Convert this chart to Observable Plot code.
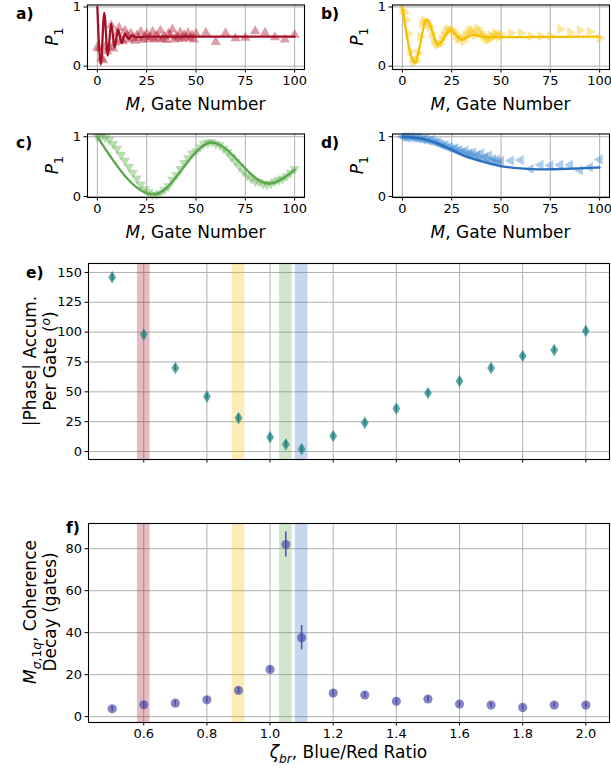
<!DOCTYPE html>
<html><head><meta charset="utf-8">
<script src="https://cdn.jsdelivr.net/npm/d3@7"></script>
<script src="https://cdn.jsdelivr.net/npm/@observablehq/plot@0.6"></script>
<style>
body{margin:0;background:#fff;}
#fig{position:relative;width:611px;height:770px;overflow:hidden;background:#fff;}
#fig svg{position:absolute;}
</style></head><body><div id="fig"></div>
<script>
// ---------------- DATA ----------------
const gateTicks = [0, 25, 50, 75, 100];
const p1Ticks = [0, 1];

const gateA = [0,1,2,3,4,5,6,7,8,9,10,11,12,13,14,15,16,17,18,19,20,21,22,23,24,25,26,27,28,29,30,31,32,33,34,35,36,37,38,39,40,41,42,43,44,45,46,47,48,49,50,55,60,65,70,75,80,85,90,95,100];
const p1A = [0.32,0.30,0.13,0.10,0.33,0.25,0.32,0.69,0.30,0.40,0.55,0.65,0.45,0.42,0.60,0.52,0.45,0.55,0.48,0.43,0.52,0.47,0.58,0.44,0.50,0.55,0.46,0.49,0.58,0.45,0.52,0.47,0.60,0.46,0.50,0.44,0.55,0.52,0.62,0.45,0.50,0.48,0.57,0.46,0.53,0.49,0.56,0.47,0.52,0.45,0.55,0.565,0.41,0.56,0.47,0.48,0.59,0.565,0.49,0.45,0.53];
const fitGateA = [0,1.75,3.5,5.25,7.0,8.75,10.5,12.25,14.0,15.75,17.5,19.5,25,100];
const fitP1A = [1.0,0.03,0.90,0.18,0.72,0.31,0.62,0.39,0.55,0.46,0.52,0.49,0.5,0.5];

const gateB = [0,1,2,3,4,5,6,7,8,9,10,11,12,13,14,15,16,17,18,19,20,21,22,23,24,25,26,27,28,29,30,31,32,33,34,35,36,37,38,39,40,41,42,43,44,45,46,47,48,49,50,55,60,65,70,75,80,85,90,95,100];
const p1B = [0.95,0.90,0.78,0.55,0.25,0.12,0.07,0.10,0.22,0.50,0.72,0.77,0.74,0.70,0.66,0.55,0.42,0.38,0.36,0.38,0.45,0.52,0.60,0.63,0.60,0.62,0.58,0.52,0.47,0.45,0.49,0.42,0.52,0.55,0.60,0.62,0.56,0.52,0.64,0.58,0.55,0.50,0.48,0.44,0.46,0.52,0.50,0.56,0.53,0.49,0.54,0.56,0.56,0.51,0.51,0.51,0.63,0.57,0.60,0.58,0.47];
const fitGateB = [0,6.3,12.4,18.2,24.2,30.2,36,42,100];
const fitP1B = [1.0,0.06,0.79,0.36,0.61,0.45,0.53,0.49,0.5];

const gateC = [0,2,4,6,8,10,12,14,16,18,20,22,24,26,28,30,32,34,36,38,40,42,44,46,48,50,52,54,56,58,60,62,64,66,68,70,72,74,76,78,80,82,84,86,88,90,92,94,96,98,100];
const p1C = [1.0,1.0,0.99,0.95,0.88,0.80,0.70,0.60,0.50,0.40,0.30,0.20,0.12,0.07,0.03,0.03,0.06,0.11,0.17,0.28,0.36,0.46,0.56,0.64,0.72,0.76,0.82,0.88,0.90,0.91,0.88,0.86,0.80,0.74,0.66,0.58,0.50,0.42,0.35,0.30,0.25,0.24,0.21,0.20,0.22,0.25,0.28,0.30,0.34,0.40,0.46];
const fitGateC = [0,28.5,58,87,100];
const fitP1C = [1.0,0.035,0.90,0.215,0.45];

const gateD = [0,1,2,3,4,5,6,7,8,9,10,11,12,13,14,15,16,17,18,19,20,21,22,23,24,25,26,27,28,29,30,31,32,33,34,35,36,37,38,39,40,41,42,43,44,45,46,47,48,49,50,55,60,65,70,75,80,85,90,95,100];
const p1D = [1.0,0.99,1.0,0.98,1.0,0.99,0.98,0.99,0.97,0.98,0.96,0.95,0.97,0.94,0.93,0.95,0.92,0.90,0.91,0.88,0.87,0.85,0.86,0.82,0.83,0.80,0.79,0.81,0.76,0.78,0.74,0.72,0.77,0.70,0.73,0.68,0.74,0.66,0.70,0.64,0.72,0.62,0.66,0.60,0.69,0.58,0.63,0.57,0.62,0.55,0.60,0.60,0.61,0.46,0.53,0.52,0.53,0.53,0.44,0.49,0.62];
const fitGateD = [0,10,20,25,30,40,50,60,70,80,90,100];
const fitP1D = [1.0,0.97,0.86,0.78,0.70,0.59,0.51,0.47,0.455,0.46,0.47,0.485];

const ratio = [0.5,0.6,0.7,0.8,0.9,1.0,1.05,1.1,1.2,1.3,1.4,1.5,1.6,1.7,1.8,1.9,2.0];
const phase = [146,98,70,46,28,12,6,2,13,24,36,49,59,70,80,85,101];
const phaseErr = [3,3,2.5,2.5,3,2.5,3,3,2.5,2.5,2.5,2.5,2.5,2.5,2.5,2.5,2.5];
const decay = [3.7,5.6,6.4,8.0,12.5,22.5,82,37.6,11.2,10.3,7.3,8.4,6.0,5.5,4.4,5.5,5.5];
const decayErr = [1.2,1.5,1.3,1.3,1.5,1.5,5.9,5.8,1.3,1.3,1.2,1.3,1.2,1.2,1.2,1.2,1.2];
const ratioTicks = [0.6,0.8,1.0,1.2,1.4,1.6,1.8,2.0];
const phaseTicks = [0,25,50,75,100,125,150];
const decayTicks = [0,20,40,60,80];
const bandLo = [0.58,0.88,1.03,1.08];
const bandHi = [0.62,0.92,1.07,1.12];

// ---------------- STYLE ----------------
const FONT = "DejaVu Sans";
const GRID = "#b0b0b0";
const COL = {
  a: {fit: "#a50f26", pt: "#b0182e"},
  b: {fit: "#f5c000", pt: "#f5c518"},
  c: {fit: "#5aa64a", pt: "#5aae4a"},
  d: {fit: "#2a6fbd", pt: "#3a86d0"}
};
const bandColors = [COL.a.fit, COL.b.fit, COL.c.fit, COL.d.fit];
const TICK_FS = 13, LABEL_FS = 17;
const fig = document.getElementById("fig");

const thinDiamond = {
  draw(ctx, size) {
    const r = Math.sqrt(size / Math.PI);
    ctx.moveTo(0, -r * 1.55);
    ctx.lineTo(r * 0.95, 0);
    ctx.lineTo(0, r * 1.55);
    ctx.lineTo(-r * 0.95, 0);
    ctx.closePath();
  }
};

function richText(sel, parts, size) {
  let shift = 0;
  for (const p of parts) {
    const target = p.sub ? size * 0.3 : p.sup ? -size * 0.38 : 0;
    const ts = sel.append("tspan").text(p.t);
    if (target !== shift) { ts.attr("dy", target - shift); shift = target; }
    if (p.sub || p.sup) ts.attr("font-size", size * 0.72);
    if (p.i) ts.attr("font-style", "italic");
  }
}
function addText(svg, {x, y, rot, anchor = "middle", size = LABEL_FS, weight = "normal", parts}) {
  const t = svg.append("text")
    .attr("text-anchor", anchor)
    .attr("font-family", FONT)
    .attr("font-size", size)
    .attr("font-weight", weight)
    .attr("fill", "#000")
    .attr("transform", `translate(${x},${y})` + (rot ? ` rotate(${rot})` : ""));
  richText(t, parts, size);
  return t;
}

function makePanel(o) {
  const svg = Plot.plot({
    width: o.w, height: o.h,
    marginLeft: o.ml, marginRight: o.mr, marginTop: o.mt, marginBottom: o.mb,
    style: {fontFamily: FONT, fontSize: TICK_FS + "px", color: "#000", background: "none", overflow: "visible"},
    x: {domain: o.xd, label: null},
    y: {domain: o.yd, label: null},
    marks: [
      Plot.gridX(o.xt, {stroke: GRID, strokeOpacity: 1, strokeWidth: 1}),
      Plot.gridY(o.yt, {stroke: GRID, strokeOpacity: 1, strokeWidth: 1}),
      ...o.marks,
      Plot.frame({stroke: "#000", strokeWidth: 1.1}),
      Plot.axisX(o.xt, {tickSize: 3.5, tickPadding: 3, tickFormat: o.xf, label: null}),
      Plot.axisY(o.yt, {tickSize: 3.5, tickPadding: 3, tickFormat: o.yf, label: null})
    ]
  });
  svg.style.left = o.left + "px";
  svg.style.top = o.top + "px";
  fig.appendChild(svg);
  return d3.select(svg);
}

function gatePanel(id, left, top, gates, p1, fitG, fitP, col, rot, yd, mt, mb, h) {
  const pts = gates.map((m, i) => ({m, p: p1[i]}));
  const fit = fitG.map((m, i) => ({m, p: fitP[i]}));
  const svg = makePanel({
    left, top, w: left === 0 ? 305 : 306, h,
    ml: 87, mr: left === 0 ? 1 : 2, mt, mb,
    xd: [-5, 105], yd, xt: gateTicks, yt: p1Ticks,
    xf: d3.format("d"), yf: d3.format("d"),
    marks: [
      Plot.dot(pts, {x: "m", y: "p", symbol: "triangle", r: 3.8, rotate: rot, fill: col.pt, fillOpacity: 0.42, stroke: "none"}),
      Plot.line(fit, {x: "m", y: "p", stroke: col.fit, strokeWidth: 2.3, curve: "monotone-x"})
    ]
  });
  const plotTop = mt, plotBot = h - mb;
  addText(svg, {x: 87 + 217 / 2, y: plotBot + 41, parts: [{t: "M", i: true}, {t: ", Gate Number"}]});
  addText(svg, {x: 58, y: (plotTop + plotBot) / 2, rot: -90, parts: [{t: "P", i: true}, {t: "1", sub: true}]});
  addText(svg, {x: 16, y: 19, anchor: "start", size: 15.5, weight: "bold", parts: [{t: id + ")"}]});
  return svg;
}

gatePanel("a", 0, 0, gateA, p1A, fitGateA, fitP1A, COL.a, 0, [-0.056, 1.034], 4.5, 51, 120);
gatePanel("b", 305, 0, gateB, p1B, fitGateB, fitP1B, COL.b, 90, [-0.056, 1.034], 4.5, 51, 120);
gatePanel("c", 0, 129, gateC, p1C, fitGateC, fitP1C, COL.c, 180, [-0.017, 1.046], 4.5, 53, 121);
gatePanel("d", 305, 129, gateD, p1D, fitGateD, fitP1D, COL.d, 270, [-0.017, 1.046], 4.5, 53, 121);

// ---------- panels e, f ----------
const bands = bandLo.map((lo, i) => ({lo, hi: bandHi[i], c: bandColors[i]}));
const rowsE = ratio.map((r, i) => ({r, v: phase[i], e: phaseErr[i]}));
const rowsF = ratio.map((r, i) => ({r, v: decay[i], e: decayErr[i]}));
const TEAL = "#1f8585", TEAL_D = "#0f5c5c", PURP = "#4646a6", PURP_D = "#4040a0";
const BAND_OP = 0.28;

const svgE = makePanel({
  left: 0, top: 250, w: 611, h: 230, ml: 88, mr: 2, mt: 13, mb: 21,
  xd: [0.425, 2.075], yd: [-6.7, 157.5], xt: ratioTicks, yt: phaseTicks,
  xf: () => "", yf: d3.format("d"),
  marks: [
    Plot.rect(bands, {x1: "lo", x2: "hi", fill: "c", fillOpacity: BAND_OP}),
    Plot.ruleX(rowsE, {x: "r", y1: d => d.v - d.e, y2: d => d.v + d.e, stroke: TEAL_D, strokeWidth: 1.4}),
    Plot.dot(rowsE, {x: "r", y: "v", symbol: thinDiamond, r: 4.1, fill: TEAL, fillOpacity: 0.72, stroke: "none"})
  ]
});
addText(svgE, {x: 36, y: 111, rot: -90, parts: [{t: "|Phase| Accum."}]});
addText(svgE, {x: 56, y: 111, rot: -90, parts: [{t: "Per Gate ("}, {t: "o", i: true, sup: true}, {t: ")"}]});
addText(svgE, {x: 26, y: 28, anchor: "start", size: 15.5, weight: "bold", parts: [{t: "e)"}]});

const svgF = makePanel({
  left: 0, top: 500, w: 611, h: 270, ml: 88, mr: 2, mt: 23, mb: 48,
  xd: [0.425, 2.075], yd: [-2.8, 92], xt: ratioTicks, yt: decayTicks,
  xf: d3.format(".1f"), yf: d3.format("d"),
  marks: [
    Plot.rect(bands, {x1: "lo", x2: "hi", fill: "c", fillOpacity: BAND_OP}),
    Plot.ruleX(rowsF, {x: "r", y1: d => d.v - d.e, y2: d => d.v + d.e, stroke: PURP_D, strokeWidth: 1.6, strokeOpacity: 0.85}),
    Plot.dot(rowsF, {x: "r", y: "v", r: 4.6, fill: PURP, fillOpacity: 0.66, stroke: "none"})
  ]
});
addText(svgF, {x: 36, y: 112, rot: -90, parts: [{t: "M", i: true}, {t: "σ", i: true, sub: true}, {t: ",1", sub: true}, {t: "q", i: true, sub: true}, {t: ", Coherence"}]});
addText(svgF, {x: 56, y: 112, rot: -90, parts: [{t: "Decay (gates)"}]});
addText(svgF, {x: 66, y: 33, anchor: "start", size: 15.5, weight: "bold", parts: [{t: "f)"}]});
addText(svgF, {x: 88 + 521 / 2, y: 258, parts: [{t: "ζ", i: true}, {t: "br", i: true, sub: true}, {t: ", Blue/Red Ratio"}]});
</script></body></html>
